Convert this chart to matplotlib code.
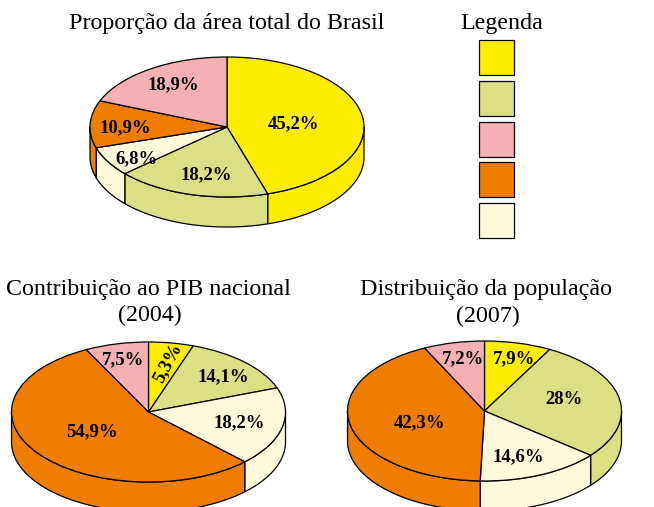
import numpy as np
import matplotlib
matplotlib.use('Agg')
import matplotlib.pyplot as plt
from matplotlib.patches import Rectangle

plt.rcParams['font.family'] = ['Liberation Serif', 'DejaVu Serif']

W, H = 654, 507

# ordem das fatias: sentido horario a partir do topo
colors = ['#FFED00', '#DCE085', '#FFFADC', '#F07D00', '#F5B0B3']
legend_colors = ['#FFED00', '#DCE085', '#F5B0B3', '#F07D00', '#FFFADC']

area = [45.2, 18.2, 6.8, 10.9, 18.9]
pib = [5.3, 14.1, 18.2, 54.9, 7.5]
populacao = [7.9, 28, 14.6, 42.3, 7.2]

area_label_pos = [(294, 124), (206, 175), (136, 159), (125, 128), (173, 85)]
pib_label_pos = [(168, 363), (223, 377), (239, 423), (92, 432), (123, 360)]
pop_label_pos = [(514, 359), (564, 399), (518, 457), (420, 423), (463, 359)]

fig = plt.figure(figsize=(W / 100, H / 100), dpi=100)


def fig_text(x, y, s, **kw):
    fig.text(x / W, 1 - y / H, s, ha='center', va='center', **kw)


def pie3d(values, cx, cy, label_pos, rx=137, ry=70, depth=30):
    margin = 1.05
    dz = depth / ry
    bottom = -1 - dz - 0.05
    # eixos em pixels: a elipse sai do aspecto livre do eixo
    ax = fig.add_axes([(cx - rx * margin) / W,
                       1 - (cy - bottom * ry) / H,
                       2 * rx * margin / W,
                       (margin - bottom) * ry / H])

    ax.pie(values, colors=colors, startangle=90, counterclock=False, radius=1,
           wedgeprops={'edgecolor': 'black', 'linewidth': 0.9, 'zorder': 3})
    ax.set_aspect('auto')
    ax.set_xlim(-margin, margin)
    ax.set_ylim(bottom, margin)

    # lateral do disco: so a parte entre -180 e 0 graus aparece
    bounds = 90 - 3.6 * np.concatenate([[0], np.cumsum(values)])
    for a, b, color in zip(bounds[:-1], bounds[1:], colors):
        hi = min(a, 0)
        lo = max(b, -180)
        if hi > lo:
            t = np.radians(np.linspace(lo, hi, 60))
            xs = np.cos(t)
            ys = np.sin(t)
            ax.fill(np.r_[xs, xs[::-1]], np.r_[ys, ys[::-1] - dz],
                    facecolor=color, edgecolor='black', linewidth=0.9,
                    zorder=1)

    for value, (x, y) in zip(values, label_pos):
        txt = f'{value}%'.replace('.', ',')
        rot = 62 if value == 5.3 else 0
        fig_text(x, y, txt, fontsize=13.5, fontweight='bold', rotation=rot,
                 zorder=5)
    return ax


pie3d(area, 227, 127, area_label_pos)
pie3d(pib, 148.5, 412, pib_label_pos)
pie3d(populacao, 484.5, 411, pop_label_pos)

fig_text(227, 23, 'Proporção da área total do Brasil', fontsize=17.3)
fig_text(502, 23, 'Legenda', fontsize=17.3)
fig_text(148, 289, 'Contribuição ao PIB nacional', fontsize=17.3)
fig_text(150, 315, '(2004)', fontsize=17.3)
fig_text(486, 290, 'Distribuição da população', fontsize=17.3)
fig_text(488, 316, '(2007)', fontsize=17.3)

legend_tops = [40, 81, 122, 162, 203]
for top, color in zip(legend_tops, legend_colors):
    fig.add_artist(Rectangle((479 / W, 1 - (top + 35) / H), 35 / W, 35 / H,
                             transform=fig.transFigure, facecolor=color,
                             edgecolor='black', linewidth=0.9))

fig.savefig('out.png', dpi=100)
